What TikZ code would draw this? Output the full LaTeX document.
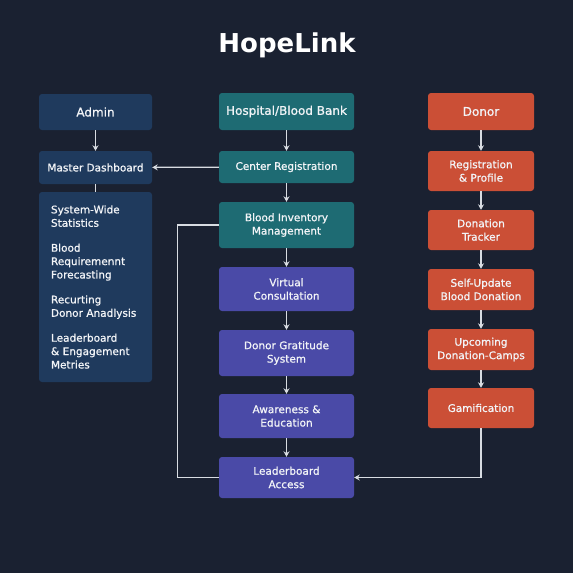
\documentclass[tikz,border=0pt]{standalone}
\usepackage{fontspec}
\setmainfont{DejaVu Sans}
\newfontfamily\medfont[FakeBold=0.9]{DejaVu Sans}
\usetikzlibrary{arrows.meta}
\definecolor{bgc}{HTML}{1A2131}
\definecolor{adminc}{HTML}{1F3A5D}
\definecolor{tealc}{HTML}{1E6B73}
\definecolor{purpc}{HTML}{4A4AA7}
\definecolor{orangec}{HTML}{CB4F36}
\definecolor{linec}{HTML}{D8DCE2}
\definecolor{textc}{HTML}{F2F4F7}
\tikzset{
  boxbase/.style={rectangle, rounded corners=3pt, inner sep=2pt, text=textc, align=center,
    font=\medfont\fontsize{10.5}{13.4}\selectfont},
  adminbox/.style={boxbase, fill=adminc, minimum width=113pt},
  tealbox/.style={boxbase, fill=tealc, minimum width=135pt},
  purpbox/.style={boxbase, fill=purpc, minimum width=135pt},
  orangebox/.style={boxbase, fill=orangec, minimum width=106pt},
  headfont/.style={font=\medfont\fontsize{12}{14}\selectfont},
  conn/.style={draw=linec, line width=1.3pt},
  arr/.style={conn, -{Stealth[length=5.5pt,width=6pt]}},
}
\begin{document}
\begin{tikzpicture}[x=1pt,y=-1pt]
\useasboundingbox[fill=bgc] (0,0) rectangle (573,573);
\node[text=white, font=\fontsize{26}{30}\selectfont\bfseries, anchor=base] (title) at (287,52) {HopeLink};
% Admin column
\node[adminbox, headfont, minimum height=36pt] (admin) at (95.5,112) {Admin};
\node[adminbox, minimum height=33pt] (master) at (95.5,167.5) {Master Dashboard};
\node[adminbox, minimum height=190pt, text width=89pt, inner xsep=12pt, align=left] (stats) at (95.5,287)
  {System-Wide\\Statistics\\[11.5pt]Blood\\Requiremennt\\Forecasting\\[11.5pt]Recurting\\Donor Anadlysis\\[11.5pt]Leaderboard\\\& Engagement\\Metries};
% Hospital column
\node[tealbox, headfont, minimum height=37pt] (hosp) at (286.5,111.5) {Hospital/Blood Bank};
\node[tealbox, minimum height=32pt] (creg) at (286.5,167) {Center Registration};
\node[tealbox, minimum height=46pt] (binv) at (286.5,225) {Blood Inventory\\Management};
\node[purpbox, minimum height=44pt] (virt) at (286.5,289) {Virtual\\Consultation};
\node[purpbox, minimum height=46pt] (grat) at (286.5,353) {Donor Gratitude\\System};
\node[purpbox, minimum height=44pt] (aware) at (286.5,416) {Awareness \&\\Education};
\node[purpbox, minimum height=41pt] (lead) at (286.5,477.5) {Leaderboard\\Access};
% Donor column
\node[orangebox, headfont, minimum height=37pt] (donor) at (481,111.5) {Donor};
\node[orangebox, minimum height=40pt] (dreg) at (481,171) {Registration\\\& Profile};
\node[orangebox, minimum height=40pt] (track) at (481,230) {Donation\\Tracker};
\node[orangebox, minimum height=41pt] (self) at (481,289.5) {Self-Update\\Blood Donation};
\node[orangebox, minimum height=41pt] (camps) at (481,349.5) {Upcoming\\Donation-Camps};
\node[orangebox, minimum height=40pt] (gami) at (481,408) {Gamification};
% connectors
\draw[arr] (admin) -- (master);
\draw[conn] (master) -- (stats);
\draw[arr] (hosp) -- (creg);
\draw[arr] (creg) -- (master);
\draw[arr] (creg) -- (binv);
\draw[arr] (binv) -- (virt);
\draw[arr] (virt) -- (grat);
\draw[arr] (grat) -- (aware);
\draw[arr] (aware) -- (lead);
\draw[conn] (binv.west) -- ++(-41,0) |- (lead.west);
\draw[arr] (donor) -- (dreg);
\draw[arr] (dreg) -- (track);
\draw[arr] (track) -- (self);
\draw[arr] (self) -- (camps);
\draw[arr] (camps) -- (gami);
\draw[arr] (gami.south) |- (lead.east);
\end{tikzpicture}
\end{document}
